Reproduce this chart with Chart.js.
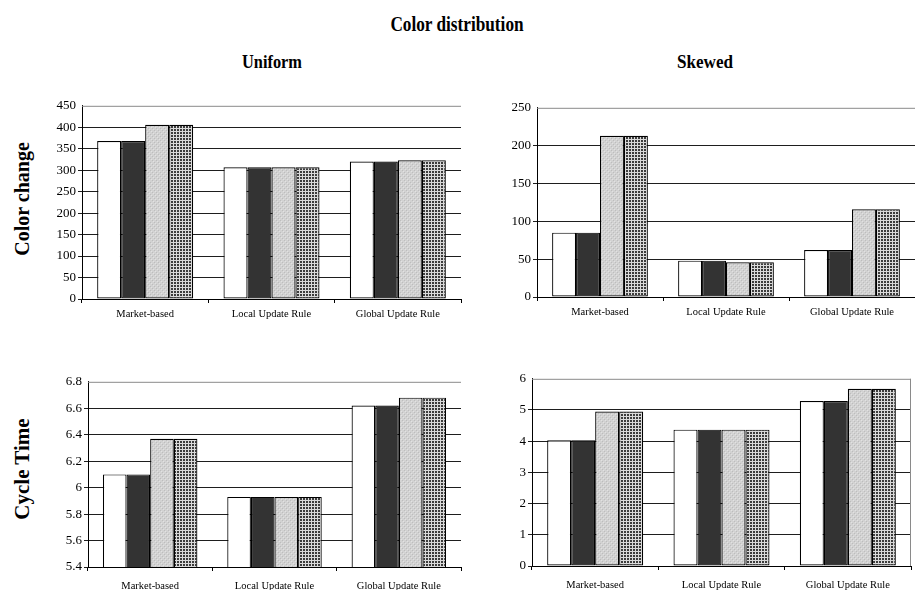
<!DOCTYPE html>
<html>
<head>
<meta charset="utf-8">
<script src="https://cdn.jsdelivr.net/npm/chart.js@4.4.1/dist/chart.umd.min.js"></script>
<style>
  html, body { margin: 0; padding: 0; background: #fff; }
  body { width: 915px; height: 590px; position: relative; overflow: hidden; font-family: "Liberation Serif", "Times New Roman", serif; }
  .txt { position: absolute; font-weight: bold; color: #000; white-space: nowrap; }
  .box { position: absolute; }
  .box canvas { display: block; }
</style>
</head>
<body>
<div class="txt" style="left:457px; top:24px; font-size:21px; transform:translate(-50%,-50%) scaleX(0.82);">Color distribution</div>
<div class="txt" style="left:272px; top:62px; font-size:19px; transform:translate(-50%,-50%) scaleX(0.86);">Uniform</div>
<div class="txt" style="left:705px; top:62px; font-size:19px; transform:translate(-50%,-50%) scaleX(0.9);">Skewed</div>
<div class="txt" style="left:22px; top:199px; font-size:20px; transform:translate(-50%,-50%) rotate(-90deg);">Color change</div>
<div class="txt" style="left:22px; top:469px; font-size:21px; transform:translate(-50%,-50%) rotate(-90deg);">Cycle Time</div>

<div class="box" id="b1"><canvas id="c1"></canvas></div>
<div class="box" id="b2"><canvas id="c2"></canvas></div>
<div class="box" id="b3"><canvas id="c3"></canvas></div>
<div class="box" id="b4"><canvas id="c4"></canvas></div>

<script>
// Categories shared by all four panels
const categories = ['Market-based', 'Local Update Rule', 'Global Update Rule'];
const seriesNames = ['Variant 1', 'Variant 2', 'Variant 3', 'Variant 4'];

// Color change, uniform distribution
const uniformChange1 = [368, 307, 320];
const uniformChange2 = [368, 307, 320];
const uniformChange3 = [406, 307, 323];
const uniformChange4 = [406, 307, 323];
const uniformChangeTicks = [0, 50, 100, 150, 200, 250, 300, 350, 400, 450];

// Color change, skewed distribution
const skewedChange1 = [85, 48, 62];
const skewedChange2 = [85, 48, 62];
const skewedChange3 = [213, 46, 116];
const skewedChange4 = [213, 46, 116];
const skewedChangeTicks = [0, 50, 100, 150, 200, 250];

// Cycle time, uniform distribution
const uniformCycle1 = [6.10, 5.93, 6.62];
const uniformCycle2 = [6.10, 5.93, 6.62];
const uniformCycle3 = [6.37, 5.93, 6.68];
const uniformCycle4 = [6.37, 5.93, 6.68];
const uniformCycleTicks = [5.4, 5.6, 5.8, 6, 6.2, 6.4, 6.6, 6.8];

// Cycle time, skewed distribution
const skewedCycle1 = [4.03, 4.37, 5.29];
const skewedCycle2 = [4.03, 4.37, 5.29];
const skewedCycle3 = [4.95, 4.37, 5.68];
const skewedCycle4 = [4.95, 4.37, 5.68];
const skewedCycleTicks = [0, 1, 2, 3, 4, 5, 6];

// Bar fills: plain white, dark grey, and two textured greys
function makePattern(size, draw) {
  const c = document.createElement('canvas');
  c.width = size; c.height = size;
  const g = c.getContext('2d');
  draw(g);
  return g.createPattern(c, 'repeat');
}
const stippleFill = makePattern(4, g => {
  g.fillStyle = '#d2d2d2'; g.fillRect(0, 0, 4, 4);
  g.fillStyle = '#bdbdbd';
  g.fillRect(0, 0, 1, 1); g.fillRect(2, 2, 1, 1);
  g.fillStyle = '#e2e2e2';
  g.fillRect(1, 1, 1, 1); g.fillRect(3, 3, 1, 1);
});
const checkFill = makePattern(3, g => {
  g.fillStyle = '#dadada'; g.fillRect(0, 0, 3, 3);
  g.fillStyle = '#3c3c3c'; g.fillRect(0, 0, 2, 2);
});
const fills = ['#ffffff', '#333333', stippleFill, checkFill];

const serif = "'Liberation Serif', 'Times New Roman', serif";

// Grey frame drawn on the plot's top (and optionally right) edge
const framePlugin = {
  id: 'plotFrame',
  afterDraw(chart, args, opts) {
    const a = chart.chartArea, ctx = chart.ctx;
    ctx.save();
    ctx.strokeStyle = '#8a8a8a';
    ctx.lineWidth = 1;
    ctx.beginPath();
    ctx.moveTo(a.left, a.top + 0.5);
    ctx.lineTo(a.right, a.top + 0.5);
    if (opts.right) {
      ctx.moveTo(a.right - 0.5, a.top);
      ctx.lineTo(a.right - 0.5, a.bottom);
    }
    ctx.stroke();
    ctx.restore();
  }
};

function panel(boxId, canvasId, rect, series, ticks, opts) {
  const yw = 46, xh = 36, padTop = 6, padRight = 1;
  const left = rect.l - yw, top = rect.t - padTop;
  const w = rect.r - left + padRight, h = rect.b - top + xh;
  const box = document.getElementById(boxId);
  box.style.left = left + 'px'; box.style.top = top + 'px';
  box.style.width = w + 'px'; box.style.height = h + 'px';

  new Chart(document.getElementById(canvasId), {
    type: 'bar',
    data: {
      labels: categories,
      datasets: series.map((vals, i) => ({
        label: seriesNames[i],
        data: vals,
        backgroundColor: fills[i],
        borderColor: '#000000',
        borderWidth: 1.2,
        borderSkipped: false,
        categoryPercentage: 0.76,
        barPercentage: 1.0
      }))
    },
    options: {
      responsive: true,
      maintainAspectRatio: false,
      animation: false,
      devicePixelRatio: 1,
      layout: { padding: { top: padTop, right: padRight, left: 0, bottom: 0 } },
      plugins: {
        legend: { display: false },
        tooltip: { enabled: false },
        plotFrame: { right: !!opts.frameRight }
      },
      scales: {
        x: {
          grid: { display: true, drawOnChartArea: false, drawTicks: true, tickLength: 4, color: '#000', offset: true },
          border: { display: true, color: '#000', width: 1 },
          ticks: { color: '#000', font: { family: serif, size: 10.5 }, padding: opts.xPad, maxRotation: 0, autoSkip: false },
          afterFit: s => { s.height = xh; }
        },
        y: {
          min: ticks[0],
          max: ticks[ticks.length - 1],
          afterBuildTicks: s => { s.ticks = ticks.map(v => ({ value: v })); },
          grid: {
            color: c => (c.tick && c.tick.value === ticks[ticks.length - 1]) ? 'rgba(0,0,0,0)' : '#1e1e1e',
            lineWidth: 1, tickLength: 4, drawTicks: true
          },
          border: { display: true, color: '#000', width: 1 },
          ticks: { color: '#000', font: { family: serif, size: 13 }, padding: 2, callback: v => String(v) },
          afterFit: s => { s.width = yw; }
        }
      }
    },
    plugins: [framePlugin]
  });
}

panel('b1', 'c1', { l: 82, r: 461, t: 102, b: 299 },
  [uniformChange1, uniformChange2, uniformChange3, uniformChange4], uniformChangeTicks, { xPad: 5 });
panel('b2', 'c2', { l: 537, r: 915, t: 104, b: 297 },
  [skewedChange1, skewedChange2, skewedChange3, skewedChange4], skewedChangeTicks, { xPad: 5 });
panel('b3', 'c3', { l: 88, r: 461, t: 378, b: 567 },
  [uniformCycle1, uniformCycle2, uniformCycle3, uniformCycle4], uniformCycleTicks, { xPad: 9 });
panel('b4', 'c4', { l: 532, r: 911, t: 375, b: 566 },
  [skewedCycle1, skewedCycle2, skewedCycle3, skewedCycle4], skewedCycleTicks, { xPad: 9, frameRight: true });
</script>
</body>
</html>
